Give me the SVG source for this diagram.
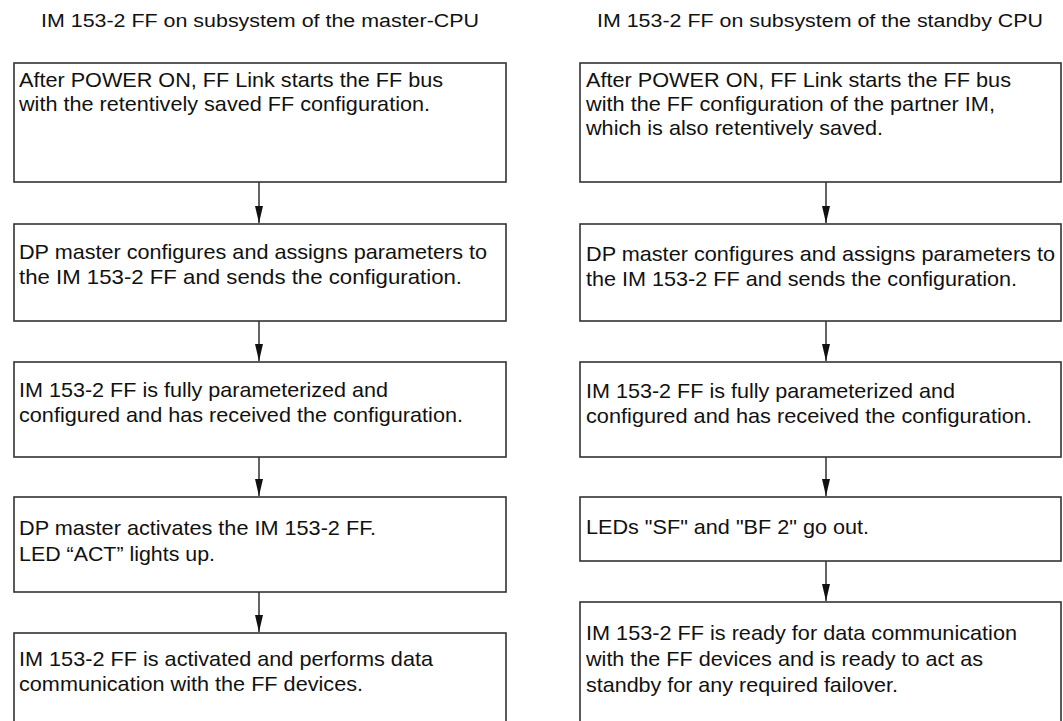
<svg xmlns="http://www.w3.org/2000/svg" width="1063" height="721" viewBox="0 0 1063 721">
<style>
.box{fill:#fff;stroke:#333;stroke-width:1.6}
.t{font-family:"Liberation Sans",Arial,sans-serif;font-size:21px;fill:#111}
.h{font-family:"Liberation Sans",Arial,sans-serif;font-size:18px;fill:#111}
.c{stroke:#222;stroke-width:1.4;fill:none;marker-end:url(#ah)}
</style>
<defs>
<marker id="ah" viewBox="0 0 17 8" refX="17" refY="4" markerWidth="17" markerHeight="8" markerUnits="userSpaceOnUse" orient="auto">
<path d="M0,0 L17,4 L0,8 Z" fill="#111"/>
</marker>
</defs>
<rect width="1063" height="721" fill="#fff"/>
<g id="titles">
<text class="h" x="41" y="27" textLength="438" lengthAdjust="spacingAndGlyphs">IM 153-2 FF on subsystem of the master-CPU</text>
<text class="h" x="597" y="27" textLength="446" lengthAdjust="spacingAndGlyphs">IM 153-2 FF on subsystem of the standby CPU</text>
</g>
<g id="connectors">
<path class="c" d="M259,182 V223"/>
<path class="c" d="M259,321 V361"/>
<path class="c" d="M259,457 V496"/>
<path class="c" d="M259,592 V632"/>
<path class="c" d="M826,182 V223"/>
<path class="c" d="M826,321 V361"/>
<path class="c" d="M826,457 V496"/>
<path class="c" d="M826,561 V601"/>
</g>
<g id="L1">
<rect class="box" x="14" y="63" width="492" height="119"/>
<text class="t" x="19" y="87" textLength="424" lengthAdjust="spacingAndGlyphs">After POWER ON, FF Link starts the FF bus</text>
<text class="t" x="19" y="111" textLength="411" lengthAdjust="spacingAndGlyphs">with the retentively saved FF configuration.</text>
</g>
<g id="L2">
<rect class="box" x="14" y="224" width="492" height="97"/>
<text class="t" x="19" y="259" textLength="468" lengthAdjust="spacingAndGlyphs">DP master configures and assigns parameters to</text>
<text class="t" x="19" y="284" textLength="443" lengthAdjust="spacingAndGlyphs">the IM 153-2 FF and sends the configuration.</text>
</g>
<g id="L3">
<rect class="box" x="14" y="362" width="492" height="95"/>
<text class="t" x="19" y="397" textLength="369" lengthAdjust="spacingAndGlyphs">IM 153-2 FF is fully parameterized and</text>
<text class="t" x="19" y="422" textLength="444" lengthAdjust="spacingAndGlyphs">configured and has received the configuration.</text>
</g>
<g id="L4">
<rect class="box" x="14" y="497" width="492" height="95"/>
<text class="t" x="19" y="535" textLength="357" lengthAdjust="spacingAndGlyphs">DP master activates the IM 153-2 FF.</text>
<text class="t" x="19" y="561" textLength="196" lengthAdjust="spacingAndGlyphs">LED “ACT” lights up.</text>
</g>
<g id="L5">
<rect class="box" x="14" y="633" width="492" height="100"/>
<text class="t" x="19" y="666" textLength="414" lengthAdjust="spacingAndGlyphs">IM 153-2 FF is activated and performs data</text>
<text class="t" x="19" y="691" textLength="344" lengthAdjust="spacingAndGlyphs">communication with the FF devices.</text>
</g>
<g id="R1">
<rect class="box" x="580" y="63" width="481" height="119"/>
<text class="t" x="586" y="87" textLength="425" lengthAdjust="spacingAndGlyphs">After POWER ON, FF Link starts the FF bus</text>
<text class="t" x="586" y="111" textLength="409" lengthAdjust="spacingAndGlyphs">with the FF configuration of the partner IM,</text>
<text class="t" x="586" y="135" textLength="297" lengthAdjust="spacingAndGlyphs">which is also retentively saved.</text>
</g>
<g id="R2">
<rect class="box" x="580" y="224" width="481" height="97"/>
<text class="t" x="586" y="261" textLength="469" lengthAdjust="spacingAndGlyphs">DP master configures and assigns parameters to</text>
<text class="t" x="586" y="286" textLength="431" lengthAdjust="spacingAndGlyphs">the IM 153-2 FF and sends the configuration.</text>
</g>
<g id="R3">
<rect class="box" x="580" y="362" width="481" height="95"/>
<text class="t" x="586" y="398" textLength="369" lengthAdjust="spacingAndGlyphs">IM 153-2 FF is fully parameterized and</text>
<text class="t" x="586" y="423" textLength="446" lengthAdjust="spacingAndGlyphs">configured and has received the configuration.</text>
</g>
<g id="R4">
<rect class="box" x="580" y="497" width="481" height="64"/>
<text class="t" x="586" y="534" textLength="283" lengthAdjust="spacingAndGlyphs">LEDs "SF" and "BF 2" go out.</text>
</g>
<g id="R5">
<rect class="box" x="580" y="602" width="481" height="131"/>
<text class="t" x="586" y="640" textLength="431" lengthAdjust="spacingAndGlyphs">IM 153-2 FF is ready for data communication</text>
<text class="t" x="586" y="666" textLength="397" lengthAdjust="spacingAndGlyphs">with the FF devices and is ready to act as</text>
<text class="t" x="586" y="692" textLength="312" lengthAdjust="spacingAndGlyphs">standby for any required failover.</text>
</g>
</svg>
